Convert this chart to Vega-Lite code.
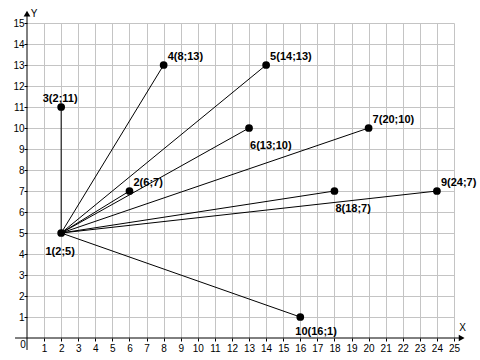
{
  "$schema": "https://vega.github.io/schema/vega-lite/v6.json",
  "width": 427,
  "height": 315,
  "autosize": {"type": "none"},
  "padding": {"left": 27, "top": 23, "right": 26, "bottom": 22},
  "background": "white",
  "config": {
    "view": {"stroke": null},
    "axis": {
      "domain": false,
      "grid": true,
      "gridColor": "#c4c4c4",
      "gridWidth": 1,
      "ticks": true,
      "tickColor": "black",
      "tickSize": 3,
      "labelColor": "black",
      "labelFont": "Liberation Sans",
      "labelFontSize": 10,
      "title": null
    }
  },
  "datasets": {
    "pts": [
      {"id": 1, "x": 2, "y": 5, "label": "1(2;5)"},
      {"id": 2, "x": 6, "y": 7, "label": "2(6;7)"},
      {"id": 3, "x": 2, "y": 11, "label": "3(2;11)"},
      {"id": 4, "x": 8, "y": 13, "label": "4(8;13)"},
      {"id": 5, "x": 14, "y": 13, "label": "5(14;13)"},
      {"id": 6, "x": 13, "y": 10, "label": "6(13;10)"},
      {"id": 7, "x": 20, "y": 10, "label": "7(20;10)"},
      {"id": 8, "x": 18, "y": 7, "label": "8(18;7)"},
      {"id": 9, "x": 24, "y": 7, "label": "9(24;7)"},
      {"id": 10, "x": 16, "y": 1, "label": "10(16;1)"}
    ],
    "axlines": [
      {"x1": -0.7, "x2": 25.3, "y1": 0, "y2": 0},
      {"x1": 0, "x2": 0, "y1": -0.57, "y2": 15.4}
    ],
    "arrows": [
      {"name": "X", "x": 25.45, "y": 0},
      {"name": "Y", "x": 0, "y": 15.45}
    ]
  },
  "layer": [
    {
      "data": {"name": "pts"},
      "mark": {"type": "point", "opacity": 0},
      "encoding": {
        "x": {
          "field": "x", "type": "quantitative",
          "scale": {"domain": [0, 25], "nice": false, "zero": false},
          "axis": {"values": [1,2,3,4,5,6,7,8,9,10,11,12,13,14,15,16,17,18,19,20,21,22,23,24,25], "tickCount": 25, "labelPadding": 2, "labelFlush": false, "labelOverlap": false}
        },
        "y": {
          "field": "y", "type": "quantitative",
          "scale": {"domain": [0, 15], "nice": false, "zero": false},
          "axis": {"values": [1,2,3,4,5,6,7,8,9,10,11,12,13,14,15], "tickCount": 15, "labelPadding": 0, "labelFlush": false, "labelOverlap": false}
        }
      }
    },
    {
      "data": {"name": "pts"},
      "transform": [{"filter": "datum.id != 1"}],
      "mark": {"type": "rule", "color": "black", "strokeWidth": 1},
      "encoding": {
        "x": {"field": "x", "type": "quantitative"},
        "y": {"field": "y", "type": "quantitative"},
        "x2": {"datum": 2},
        "y2": {"datum": 5}
      }
    },
    {
      "data": {"name": "axlines"},
      "mark": {"type": "rule", "color": "black", "strokeWidth": 1},
      "encoding": {
        "x": {"field": "x1", "type": "quantitative"},
        "x2": {"field": "x2"},
        "y": {"field": "y1", "type": "quantitative"},
        "y2": {"field": "y2"}
      }
    },
    {
      "data": {"name": "arrows"},
      "transform": [{"filter": "datum.name == 'X'"}],
      "mark": {"type": "point", "filled": true, "color": "black", "opacity": 1, "size": 45, "shape": "triangle-right"},
      "encoding": {
        "x": {"field": "x", "type": "quantitative"},
        "y": {"field": "y", "type": "quantitative"}
      }
    },
    {
      "data": {"name": "arrows"},
      "transform": [{"filter": "datum.name == 'Y'"}],
      "mark": {"type": "point", "filled": true, "color": "black", "opacity": 1, "size": 45, "shape": "triangle-up"},
      "encoding": {
        "x": {"field": "x", "type": "quantitative"},
        "y": {"field": "y", "type": "quantitative"}
      }
    },
    {
      "data": {"name": "arrows"},
      "transform": [{"filter": "datum.name == 'X'"}],
      "mark": {"type": "text", "font": "Liberation Sans", "fontSize": 10, "color": "black", "dx": 1, "dy": -10, "baseline": "middle"},
      "encoding": {
        "x": {"field": "x", "type": "quantitative"},
        "y": {"field": "y", "type": "quantitative"},
        "text": {"field": "name"}
      }
    },
    {
      "data": {"name": "arrows"},
      "transform": [{"filter": "datum.name == 'Y'"}],
      "mark": {"type": "text", "font": "Liberation Sans", "fontSize": 10, "color": "black", "dx": 7, "dy": 0, "baseline": "middle"},
      "encoding": {
        "x": {"field": "x", "type": "quantitative"},
        "y": {"field": "y", "type": "quantitative"},
        "text": {"field": "name"}
      }
    },
    {
      "data": {"values": [{"x": 0, "y": 0, "t": "0"}]},
      "mark": {"type": "text", "font": "Liberation Sans", "fontSize": 10, "color": "black", "dx": -4, "dy": 7, "baseline": "middle", "align": "center"},
      "encoding": {
        "x": {"field": "x", "type": "quantitative"},
        "y": {"field": "y", "type": "quantitative"},
        "text": {"field": "t"}
      }
    },
    {
      "data": {"name": "pts"},
      "mark": {"type": "circle", "color": "black", "opacity": 1, "size": 60},
      "encoding": {
        "x": {"field": "x", "type": "quantitative"},
        "y": {"field": "y", "type": "quantitative"}
      }
    },
    {
      "data": {"name": "pts"},
      "transform": [{"filter": "indexof([2,4,5,7,9], datum.id) >= 0"}],
      "mark": {"type": "text", "font": "Liberation Sans", "fontSize": 11, "fontWeight": "bold", "color": "black", "align": "left", "baseline": "middle", "dx": 4, "dy": -8},
      "encoding": {
        "x": {"field": "x", "type": "quantitative"},
        "y": {"field": "y", "type": "quantitative"},
        "text": {"field": "label"}
      }
    },
    {
      "data": {"name": "pts"},
      "transform": [{"filter": "datum.id == 1"}],
      "mark": {"type": "text", "font": "Liberation Sans", "fontSize": 11, "fontWeight": "bold", "color": "black", "align": "center", "baseline": "middle", "dx": -1, "dy": 19},
      "encoding": {
        "x": {"field": "x", "type": "quantitative"},
        "y": {"field": "y", "type": "quantitative"},
        "text": {"field": "label"}
      }
    },
    {
      "data": {"name": "pts"},
      "transform": [{"filter": "datum.id == 3"}],
      "mark": {"type": "text", "font": "Liberation Sans", "fontSize": 11, "fontWeight": "bold", "color": "black", "align": "center", "baseline": "middle", "dx": -1, "dy": -8},
      "encoding": {
        "x": {"field": "x", "type": "quantitative"},
        "y": {"field": "y", "type": "quantitative"},
        "text": {"field": "label"}
      }
    },
    {
      "data": {"name": "pts"},
      "transform": [{"filter": "datum.id == 6 || datum.id == 8"}],
      "mark": {"type": "text", "font": "Liberation Sans", "fontSize": 11, "fontWeight": "bold", "color": "black", "align": "left", "baseline": "middle", "dx": 1, "dy": 18},
      "encoding": {
        "x": {"field": "x", "type": "quantitative"},
        "y": {"field": "y", "type": "quantitative"},
        "text": {"field": "label"}
      }
    },
    {
      "data": {"name": "pts"},
      "transform": [{"filter": "datum.id == 10"}],
      "mark": {"type": "text", "font": "Liberation Sans", "fontSize": 11, "fontWeight": "bold", "color": "black", "align": "left", "baseline": "middle", "dx": -5, "dy": 15},
      "encoding": {
        "x": {"field": "x", "type": "quantitative"},
        "y": {"field": "y", "type": "quantitative"},
        "text": {"field": "label"}
      }
    }
  ]
}
